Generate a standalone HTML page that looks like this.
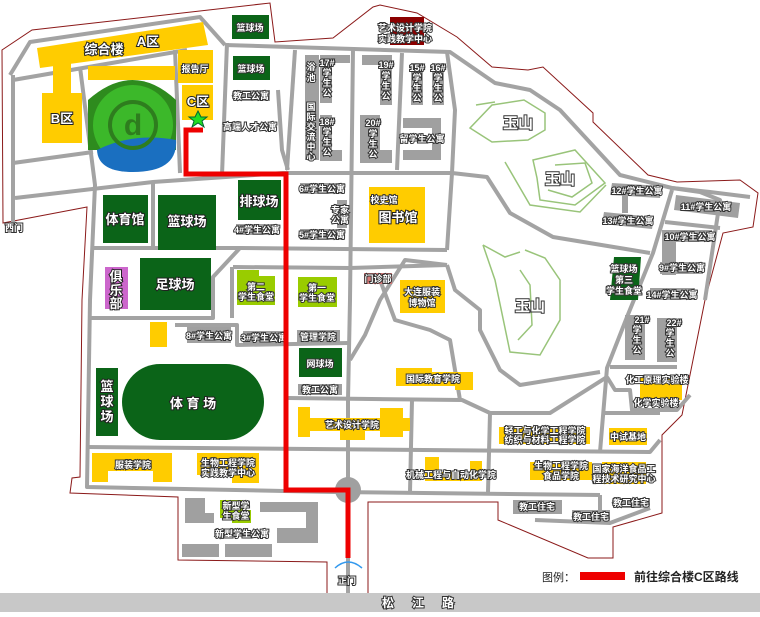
<!DOCTYPE html>
<html><head><meta charset="utf-8"><style>
html,body{margin:0;padding:0;background:#fff;}
svg{display:block;font-family:"Liberation Sans","Noto Sans CJK SC",sans-serif;}
.l{fill:#fff;stroke:#333;stroke-width:2;paint-order:stroke;font-size:9px;text-anchor:middle;font-weight:bold}
.b{fill:#fff;stroke:#222;stroke-width:2;paint-order:stroke;font-size:13px;text-anchor:middle;font-weight:bold}
.r{fill:none;stroke:#a3a3a3;stroke-width:4;stroke-linejoin:round}
.g{fill:#a0a0a0}.y{fill:#ffcc00}.dg{fill:#0b6418}.lg{fill:#99cc00}
.c{fill:none;stroke:#99c47a;stroke-width:1.5}
</style></head><body>
<svg width="760" height="617" viewBox="0 0 760 617">
<!-- boundary -->
<polyline fill="none" stroke="#8b1a1a" stroke-width="1" points="327,593 327,562 178,560 178,497 70,493 72,478 80,477 82,300 87,207 3,223 2,50 32,30 270,3 275,42 333,38 373,7 380,5 417,13 457,37 492,67 528,70 543,67 593,113 593,122 648,175 677,182 740,180 758,193 753,227 723,233 705,300 682,415 662,435 662,513 613,527 613,558 588,558 498,520 498,502 368,502 368,593"/>
<!-- roads -->
<g class="r">
<polyline points="10,75 30,42 200,17 225,45"/>
<polyline points="225,45 450,52 495,83 530,90 560,110 620,175 672,188 710,192 750,197"/>
<polyline points="13,80 187,50"/>
<polyline points="13,75 13,225"/>
<polyline points="13,163 93,152"/>
<polyline points="15,198 153,182 283,173 380,173 452,173 487,177 510,213 553,237 650,253"/>
<polyline points="80,67 95,185 90,300 87,487 333,492 600,495"/>
<polyline points="175,50 180,173"/>
<polyline points="227,43 222,175"/>
<polyline points="295,50 287,170"/>
<polyline points="278,90 282,150 288,170"/>
<polyline points="353,48 350,300 348,400 348,492"/>
<polyline points="402,53 397,170"/>
<polyline points="447,52 455,110 452,173 447,250"/>
<polyline points="672,190 653,253 627,317 607,368 600,452"/>
<polyline points="153,182 153,248"/>
<polyline points="93,248 153,248 240,248 447,250"/>
<polyline points="233,267 350,268 447,265"/>
<polyline points="240,248 213,277 213,318 90,318"/>
<polyline points="175,325 237,325 237,345 348,343"/>
<polyline points="232,267 232,318"/>
<polyline points="288,398 462,400 490,413 550,413 607,377"/>
<polyline points="87,447 650,452 660,440"/>
<polyline points="412,400 410,492"/>
<polyline points="490,413 488,492"/>
<polyline points="610,367 677,367"/>
<polyline points="607,377 615,390 630,390 632,410 677,410 690,395"/>
<polyline points="603,413 660,413"/>
<polyline points="672,188 700,192 720,200 705,300"/>
<polyline points="665,222 720,228"/>
<polyline points="447,265 405,260 380,300 365,335 350,360"/>
<polyline points="447,265 455,290 480,310 480,330 500,370 520,385 600,372"/>
<polyline points="380,280 395,320 430,330 450,340 460,400"/>
<polyline points="600,495 600,522"/>
<polyline points="535,520 610,523 650,508"/>
<polyline points="348,492 348,593"/>
</g>
<!-- hills -->
<g class="c">
<polygon points="492,105 524,100 545,113 545,130 528,140 492,142 470,128"/>
<polyline points="476,105 495,102"/>
<polygon points="533,160 575,150 605,183 575,205 540,200 537,178"/>
<polyline points="555,165 585,163 592,183 572,197 548,190"/>
<polyline points="505,162 530,205 580,212 606,185"/>
<polyline points="483,245 495,280 510,352 540,355 560,320 560,280 545,258 525,250"/>
<polyline points="520,270 530,285 532,325 518,340"/>
<polyline points="483,245 505,257 520,252"/>
</g>
<!-- top-left complex -->
<polygon class="y" points="37,48 203,22 208,45 40,68"/>
<rect class="y" x="88" y="66" width="87" height="14"/>
<rect class="y" x="53" y="62" width="18" height="35"/>
<rect class="y" x="42" y="93" width="40" height="50"/>
<rect class="y" x="178" y="50" width="35" height="33"/>
<rect class="y" x="182" y="85" width="31" height="35"/>
<path d="M88,100 Q133,60 176,100 L176,150 L88,150Z" fill="#2e8b1e"/>
<circle cx="133" cy="125" r="40" fill="#3cb82a"/>
<path d="M97,150 Q133,132 176,140 Q178,172 133,172 Q98,172 97,150Z" fill="#1a6fc0"/>
<circle cx="133" cy="125" r="23" fill="none" stroke="#2e7d1e" stroke-width="4"/>
<text x="133" y="135" font-size="30" font-weight="bold" text-anchor="middle" fill="#2e7d1e">d</text>
<polygon points="198,111 201,117 207,117 202,121 204,127 198,123 192,127 194,121 189,117 195,117" fill="#22dd22" stroke="#063" stroke-width="1"/>
<text class="b" x="104" y="54" font-size="12">综合楼</text>
<text class="b" x="148" y="46" font-size="12">A区</text>
<text class="b" x="62" y="123" font-size="12">B区</text>
<text class="l" x="195" y="72">报告厅</text>
<text class="b" x="198" y="106" font-size="12">C区</text>
<!-- top middle -->
<rect class="dg" x="232" y="15" width="37" height="24"/><text class="l" x="250" y="31">篮球场</text>
<rect class="dg" x="233" y="56" width="37" height="24"/><text class="l" x="251" y="72">篮球场</text>
<rect class="g" x="233" y="90" width="37" height="11"/><text class="l" x="251" y="99" font-size="8">教工公寓</text>
<text class="l" x="250" y="130">高端人才公寓</text>
<rect class="g" x="305" y="55" width="14" height="105"/>
<text class="l" x="311" y="70">浴</text><text class="l" x="311" y="81">池</text>
<text class="l" x="311" y="110">国</text><text class="l" x="311" y="120">际</text><text class="l" x="311" y="130">交</text><text class="l" x="311" y="140">流</text><text class="l" x="311" y="150">中</text><text class="l" x="311" y="160">心</text>
<rect class="g" x="322" y="55" width="28" height="8"/><rect class="g" x="320" y="55" width="12" height="48"/><rect class="g" x="320" y="115" width="12" height="46"/><rect class="g" x="322" y="150" width="20" height="11"/>
<text class="l" x="327" y="66">17#</text><text class="l" x="327" y="76">学</text><text class="l" x="327" y="86">生</text><text class="l" x="327" y="96">公</text>
<text class="l" x="327" y="125">18#</text><text class="l" x="327" y="135">学</text><text class="l" x="327" y="145">生</text><text class="l" x="327" y="155">公</text>
<rect class="g" x="362" y="55" width="30" height="10"/><rect class="g" x="380" y="55" width="12" height="50"/><rect class="g" x="360" y="115" width="20" height="48"/><rect class="g" x="362" y="150" width="30" height="13"/>
<text class="l" x="386" y="68">19#</text><text class="l" x="386" y="79">学</text><text class="l" x="386" y="89">生</text><text class="l" x="386" y="99">公</text>
<text class="l" x="373" y="126">20#</text><text class="l" x="373" y="137">学</text><text class="l" x="373" y="147">生</text><text class="l" x="373" y="157">公</text>
<rect class="g" x="411" y="63" width="12" height="42"/><rect class="g" x="432" y="63" width="12" height="42"/>
<text class="l" x="417" y="71">15#</text><text class="l" x="417" y="81">学</text><text class="l" x="417" y="91">生</text><text class="l" x="417" y="101">公</text>
<text class="l" x="438" y="71">16#</text><text class="l" x="438" y="81">学</text><text class="l" x="438" y="91">生</text><text class="l" x="438" y="101">公</text>
<path class="g" d="M403,118 H441 V160 H403 V150 H432 V128 H403Z"/><text class="l" x="422" y="142">留学生公寓</text>
<rect x="390" y="17" width="34" height="28" fill="#8b0000"/>
<text class="l" x="405" y="31">艺术设计学院</text><text class="l" x="405" y="42">实践教学中心</text>
<!-- middle left -->
<rect class="dg" x="103" y="195" width="45" height="48"/><text class="b" x="125" y="224">体育馆</text>
<rect class="dg" x="158" y="195" width="58" height="55"/><text class="b" x="187" y="226">篮球场</text>
<rect class="dg" x="238" y="180" width="43" height="40"/><text class="b" x="259" y="206">排球场</text>
<rect class="g" x="236" y="224" width="42" height="11"/><text class="l" x="257" y="233">4#学生公寓</text>
<rect class="g" x="300" y="183" width="45" height="11"/><text class="l" x="322" y="192">6#学生公寓</text>
<rect class="g" x="337" y="200" width="10" height="28"/><text class="l" x="340" y="213">专家</text><text class="l" x="340" y="223">公寓</text>
<rect class="g" x="300" y="229" width="45" height="11"/><text class="l" x="322" y="238">5#学生公寓</text>
<rect class="y" x="369" y="187" width="56" height="56"/><text class="l" x="384" y="203">校史馆</text><text class="b" x="398" y="222">图书馆</text>
<rect x="105" y="267" width="23" height="42" fill="#cc66cc"/><text class="b" x="116" y="281">俱</text><text class="b" x="116" y="295">乐</text><text class="b" x="116" y="308">部</text>
<rect class="dg" x="140" y="258" width="71" height="52"/><text class="b" x="175" y="289">足球场</text>
<path class="lg" d="M237,270 H259 V276 H275 V305 H237Z"/><text class="l" x="256" y="290">第二</text><text class="l" x="256" y="300">学生食堂</text>
<rect class="lg" x="298" y="277" width="39" height="30"/><text class="l" x="317" y="291">第一</text><text class="l" x="317" y="301">学生食堂</text>
<rect x="364" y="273" width="28" height="11" fill="#d87a7a"/><text class="l" x="378" y="282">门诊部</text>
<rect class="y" x="400" y="280" width="45" height="33"/><text class="l" x="422" y="295">大连服装</text><text class="l" x="422" y="306">博物馆</text>
<text x="518" y="128" font-size="15" font-weight="bold" text-anchor="middle" fill="#fff" stroke="#333" stroke-width="2" paint-order="stroke">玉山</text>
<text x="560" y="184" font-size="15" font-weight="bold" text-anchor="middle" fill="#fff" stroke="#333" stroke-width="2" paint-order="stroke">玉山</text>
<text x="530" y="311" font-size="15" font-weight="bold" text-anchor="middle" fill="#fff" stroke="#333" stroke-width="2" paint-order="stroke">玉山</text>
<!-- right dorms -->
<polygon class="g" points="612,183 662,186 660,198 610,195"/><text class="l" x="637" y="194">12#学生公寓</text>
<rect class="g" x="622" y="195" width="6" height="18"/>
<polygon class="g" points="604,212 654,217 652,229 602,224"/><text class="l" x="628" y="224">13#学生公寓</text>
<polygon class="g" points="676,195 740,203 738,218 674,210"/><text class="l" x="706" y="210">11#学生公寓</text>
<rect class="g" x="667" y="230" width="45" height="12"/><rect class="g" x="662" y="230" width="14" height="45"/><rect class="g" x="660" y="262" width="43" height="12"/>
<text class="l" x="690" y="240">10#学生公寓</text><text class="l" x="682" y="271">9#学生公寓</text>
<rect class="g" x="650" y="288" width="45" height="12"/><text class="l" x="672" y="298">14#学生公寓</text>
<polygon class="dg" points="614,257 641,257 638,300 610,300"/><text class="l" x="624" y="272">篮球场</text><text class="l" x="624" y="283">第三</text><text class="l" x="624" y="294">学生食堂</text>
<rect class="g" x="625" y="315" width="20" height="45"/><rect class="g" x="657" y="318" width="20" height="44"/>
<text class="l" x="642" y="323">21#</text><text class="l" x="637" y="333">学</text><text class="l" x="637" y="343">生</text><text class="l" x="637" y="353">公</text>
<text class="l" x="674" y="326">22#</text><text class="l" x="670" y="336">学</text><text class="l" x="670" y="346">生</text><text class="l" x="670" y="356">公</text>
<rect class="y" x="640" y="377" width="42" height="23"/><text class="l" x="657" y="383">化工原理实验楼</text><text class="l" x="656" y="406">化学实验楼</text>
<!-- lower left -->
<rect class="y" x="150" y="322" width="17" height="25"/>
<rect class="g" x="187" y="327" width="44" height="16"/><text class="l" x="209" y="339">8#学生公寓</text>
<rect class="g" x="243" y="331" width="41" height="14"/><text class="l" x="264" y="341">3#学生公寓</text>
<rect class="g" x="297" y="330" width="43" height="13"/><text class="l" x="318" y="340">管理学院</text>
<rect class="dg" x="299" y="348" width="43" height="29"/><text class="l" x="320" y="367">网球场</text>
<rect class="g" x="298" y="384" width="44" height="11"/><text class="l" x="320" y="393">教工公寓</text>
<rect class="dg" x="96" y="368" width="22" height="68"/><text class="b" x="107" y="391">篮</text><text class="b" x="107" y="406">球</text><text class="b" x="107" y="421">场</text>
<rect class="dg" x="122" y="364" width="142" height="76" rx="38"/><text class="b" x="193" y="408">体 育 场</text>
<rect class="y" x="298" y="407" width="12" height="30"/><rect class="y" x="298" y="418" width="112" height="13"/><rect class="y" x="380" y="408" width="23" height="29"/><rect class="y" x="340" y="425" width="25" height="15"/>
<text class="l" x="352" y="428">艺术设计学院</text>
<path class="y" d="M92,453 H172 V482 H153 V471 H108 V482 H92Z"/><text class="l" x="133" y="468">服装学院</text>
<path class="y" d="M197,453 H259 V483 H232 V475 H197Z"/><text class="l" x="228" y="466">生物工程学院</text><text class="l" x="228" y="476">实践教学中心</text>
<path class="g" d="M185,498 H205 V513 H214 V523 H185Z"/>
<path class="lg" d="M220,500 H242 V510 H251 V523 H232 V518 H220Z"/><text class="l" x="236" y="509">新型学</text><text class="l" x="236" y="519">生食堂</text>
<path class="g" d="M260,502 H318 V543 H277 V528 H306 V512 H260Z"/>
<text class="l" x="242" y="537">新型学生公寓</text>
<rect class="g" x="182" y="544" width="37" height="13"/><rect class="g" x="225" y="544" width="47" height="13"/>
<!-- lower right -->
<path class="y" d="M396,368 H432 V372 H473 V390 H455 V386 H396Z"/><text class="l" x="433" y="382">国际教育学院</text>
<rect class="y" x="499" y="427" width="91" height="17"/><text class="l" x="545" y="434">轻工与化学工程学院</text><text class="l" x="545" y="443">纺织与材料工程学院</text>
<rect class="y" x="609" y="428" width="38" height="17"/><text class="l" x="628" y="440">中试基地</text>
<rect class="y" x="425" y="457" width="14" height="24"/><rect class="y" x="470" y="461" width="12" height="20"/><rect class="y" x="425" y="472" width="57" height="9"/>
<text class="l" x="451" y="478">机械工程与自动化学院</text>
<rect class="y" x="530" y="462" width="62" height="18"/><text class="l" x="561" y="469">生物工程学院</text><text class="l" x="561" y="479">食品学院</text>
<rect class="y" x="602" y="462" width="44" height="22"/><text class="l" x="624" y="472">国家海洋食品工</text><text class="l" x="624" y="482">程技术研究中心</text>
<rect class="g" x="513" y="500" width="49" height="14"/><text class="l" x="537" y="510">教工住宅</text>
<rect class="g" x="572" y="510" width="38" height="12"/><text class="l" x="591" y="520">教工住宅</text>
<rect class="g" x="613" y="498" width="37" height="10"/><text class="l" x="631" y="506">教工住宅</text>
<!-- route -->
<circle cx="348" cy="490" r="13" fill="#a0a0a0"/>
<polyline points="203,130 186,130 186,174 286,174 286,490 348,490 348,558" fill="none" stroke="#ee0000" stroke-width="5"/>
<path d="M335,568 Q348,556 362,568" fill="none" stroke="#3399ee" stroke-width="1.5"/>
<text class="l" x="347" y="584">正门</text>
<text class="l" x="14" y="231">西门</text>
<!-- legend -->
<text x="542" y="581" font-size="11" fill="#222">图例：</text>
<rect x="580" y="572" width="45" height="8" fill="#ee0000"/>
<text x="634" y="581" font-size="12" font-weight="bold" fill="#222">前往综合楼C区路线</text>
<rect x="0" y="593" width="760" height="19" fill="#c8c8c8"/>
<text class="l" x="427" y="607" font-size="12" letter-spacing="18" style="font-size:12px">松江路</text>
</svg>
</body></html>
